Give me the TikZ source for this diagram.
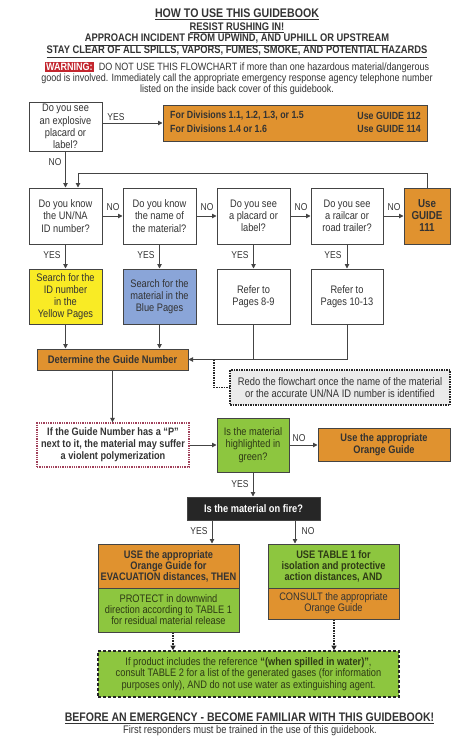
\documentclass[tikz,border=0pt]{standalone}
\usepackage{fontspec}
\setmainfont{Liberation Sans}[FakeStretch=0.85]
\usetikzlibrary{arrows.meta,calc}
\definecolor{og}{HTML}{E0922F}
\definecolor{gr}{HTML}{8DC63F}
\definecolor{yl}{HTML}{F9EB25}
\definecolor{bl}{HTML}{8AA5D8}
\definecolor{bd}{HTML}{444444}
\definecolor{tx}{HTML}{333333}
\definecolor{gtx}{HTML}{2E3A16}
\definecolor{wr}{HTML}{C3262E}
\definecolor{rd}{HTML}{A0405A}
\definecolor{gy}{HTML}{EBEBEB}
\definecolor{fb}{HTML}{262626}
\begin{document}
\begin{tikzpicture}[x=1pt,y=-1pt,
  box/.style={draw=bd,line width=1pt,inner sep=0pt,align=center,text=tx,
    font=\fontsize{10.9}{12.2}\selectfont},
  obox/.style={box,fill=og},
  gbox/.style={box,fill=gr,text=gtx},
  lbl/.style={text=tx,font=\fontsize{10}{11}\selectfont,inner sep=0pt},
  arr/.style={draw=bd,line width=0.9pt,-{Triangle[length=4.5pt,width=4.5pt]}},
  ln/.style={draw=bd,line width=0.9pt},
  dotarr/.style={draw=fb,line width=1.6pt,densely dotted,-{Triangle[length=4.5pt,width=5pt]}},
  hd/.style={text=tx,inner sep=0pt,align=center}]
\useasboundingbox (0,0) rectangle (474,745);
% header
\node[hd,font=\fontsize{12.5}{14}\bfseries] (t1) at (237,14) {\underline{HOW TO USE THIS GUIDEBOOK}};
\node[hd,font=\fontsize{11}{12}\bfseries] (t2) at (237,28) {\underline{RESIST RUSHING IN!}};
\node[hd,font=\fontsize{11}{12}\bfseries] (t3) at (237,40) {\underline{APPROACH INCIDENT FROM UPWIND, AND UPHILL OR UPSTREAM}};
\node[hd,font=\fontsize{11}{12}\bfseries] (t4) at (237,52) {\underline{STAY CLEAR OF ALL SPILLS, VAPORS, FUMES, SMOKE, AND POTENTIAL HAZARDS}};
\node[hd,font=\fontsize{10.6}{10.8}\selectfont] (warn) at (237,78) {{\setlength{\fboxsep}{1.2pt}\colorbox{wr}{\color{white}\bfseries WARNING:}}\ \ DO NOT USE THIS FLOWCHART if more than one hazardous material/dangerous\\good is involved. Immediately call the appropriate emergency response agency telephone number\\listed on the inside back cover of this guidebook.};
% first question
\node[box,minimum width=73,minimum height=49] (q1) at (65.5,126.5) {Do you see\\an explosive\\placard or\\label?};
\node[obox,minimum width=264,minimum height=36] (exp) at (295,123) {};
\node[anchor=west,inner sep=0pt,text=tx,font=\fontsize{10.4}{12}\bfseries] (e1) at (170,116) {For Divisions 1.1, 1.2, 1.3, or 1.5};
\node[anchor=west,inner sep=0pt,text=tx,font=\fontsize{10.4}{12}\bfseries] (e2) at (170,129) {For Divisions 1.4 or 1.6};
\node[anchor=east,inner sep=0pt,text=tx,font=\fontsize{10.4}{12}\bfseries] (e3) at (421,116) {Use GUIDE 112};
\node[anchor=east,inner sep=0pt,text=tx,font=\fontsize{10.4}{12}\bfseries] (e4) at (421,129) {Use GUIDE 114};
% row 2
\node[box,minimum width=73,minimum height=56] (qa) at (65.5,216) {Do you know\\the UN/NA\\ID number?};
\node[box,minimum width=73,minimum height=56] (qb) at (159.5,216) {Do you know\\the name of\\the material?};
\node[box,minimum width=73,minimum height=56] (qc) at (253.5,216) {Do you see\\a placard or\\label?};
\node[box,minimum width=72,minimum height=56] (qd) at (347,216) {Do you see\\a railcar or\\road trailer?};
\node[obox,minimum width=46,minimum height=56,font=\fontsize{11.5}{12}\bfseries] (g111) at (427,216) {Use\\GUIDE\\111};
% row 3
\node[box,fill=yl,minimum width=73,minimum height=55] (ya) at (65.5,296.5) {Search for the\\ID number\\in the\\Yellow Pages};
\node[box,fill=bl,minimum width=73,minimum height=55] (yb) at (159.5,296.5) {Search for the\\material in the\\Blue Pages};
\node[box,minimum width=73,minimum height=55] (yc) at (253.5,296.5) {Refer to\\Pages 8-9};
\node[box,minimum width=72,minimum height=55] (yd) at (347,296.5) {Refer to\\Pages 10-13};
% determine
\node[obox,minimum width=151,minimum height=21,font=\fontsize{11}{12}\bfseries] (det) at (112.5,359.5) {Determine the Guide Number};
\node[box,fill=gy,draw=fb,line width=1.5pt,densely dotted,minimum width=220,minimum height=35,font=\fontsize{11}{12}\selectfont] (redo) at (340,387.5) {Redo the flowchart once the name of the material\\or the accurate UN/NA ID number is identified};
% P box
\node[box,draw=rd,line width=1.3pt,densely dotted,minimum width=152,minimum height=44,font=\fontsize{10.8}{11.8}\bfseries] (pbox) at (113,445) {If the Guide Number has a ``P''\\next to it, the material may suffer\\a violent polymerization};
\node[gbox,minimum width=72,minimum height=54] (gq) at (253,445) {Is the material\\highlighted in\\green?};
\node[obox,minimum width=132,minimum height=33,font=\fontsize{10.9}{12}\bfseries] (oguide) at (384,444.5) {Use the appropriate\\Orange Guide};
% fire
\node[box,fill=fb,text=white,minimum width=133,minimum height=23,font=\fontsize{10.9}{12}\bfseries] (fire) at (253.5,508.5) {Is the material on fire?};
\node[obox,minimum width=141,minimum height=44,font=\fontsize{10.9}{11}\bfseries] (lt) at (168.5,566) {USE the appropriate\\Orange Guide for\\EVACUATION distances, THEN};
\node[gbox,minimum width=141,minimum height=44,font=\fontsize{10.9}{11}\selectfont] (lb) at (168.5,610) {PROTECT in downwind\\direction according to TABLE 1\\for residual material release};
\node[gbox,minimum width=131,minimum height=44,font=\fontsize{10.9}{11}\bfseries] (rt) at (333.5,566) {USE TABLE 1 for\\isolation and protective\\action distances, AND};
\node[obox,minimum width=131,minimum height=31,font=\fontsize{10.9}{11}\selectfont] (rb) at (333.5,603.5) {CONSULT the appropriate\\Orange Guide};
\node[gbox,draw=fb,line width=1.6pt,densely dashed,minimum width=301,minimum height=46,font=\fontsize{10.9}{11.5}\selectfont] (wat) at (248.5,674) {If product includes the reference \textbf{``(when spilled in water)''},\\consult TABLE 2 for a list of the generated gases (for information\\purposes only), AND do not use water as extinguishing agent.};
% footer
\node[hd,font=\fontsize{12.4}{13}\bfseries] (f1) at (249.5,718) {\underline{BEFORE AN EMERGENCY - BECOME FAMILIAR WITH THIS GUIDEBOOK!}};
\node[hd,font=\fontsize{11}{12}\selectfont] (f2) at (250,731) {First responders must be trained in the use of this guidebook.};
% connectors
\draw[arr] (q1.east |- exp.west) -- (exp.west);
\node[lbl] (l1) at (116,117) {YES};
\draw[arr] (q1.south) -- (qa.north);
\node[lbl] (l2) at (55,162) {NO};
\coordinate (loop) at (78,173);
\draw[arr] (g111.north) |- (loop) -- (loop |- qa.north);
\draw[arr] (qa.east) -- (qb.west);
\draw[arr] (qb.east) -- (qc.west);
\draw[arr] (qc.east) -- (qd.west);
\draw[arr] (qd.east) -- (g111.west);
\node[lbl] (n1) at (113,207) {NO};
\node[lbl] (n2) at (207,207) {NO};
\node[lbl] (n3) at (301,207) {NO};
\node[lbl] (n4) at (394,207) {NO};
\draw[arr] (qa.south) -- (ya.north);
\draw[arr] (qb.south) -- (yb.north);
\draw[arr] (qc.south) -- (yc.north);
\draw[arr] (qd.south) -- (yd.north);
\node[lbl] (y1) at (52,255) {YES};
\node[lbl] (y2) at (146,255) {YES};
\node[lbl] (y3) at (240,255) {YES};
\node[lbl] (y4) at (333,255) {YES};
\draw[arr] (ya.south) -- (ya.south |- det.north);
\draw[arr] (yb.south) -- (yb.south |- det.north);
\draw[ln] (yc.south) |- (det.east);
\draw[arr] (yd.south) |- (det.east);
\coordinate (dj) at (214,359.5);
\draw[draw=fb,line width=1.5pt,densely dotted] (dj) |- (redo.west);
\draw[arr] (det.south) -- (det.south |- pbox.north);
\draw[arr] (pbox.east) -- (pbox.east -| gq.west);
\draw[arr] (gq.east) -- (gq.east -| oguide.west);
\node[lbl] (n5) at (299,438) {NO};
\draw[arr] (gq.south) -- (gq.south |- fire.north);
\node[lbl] (y5) at (240,484) {YES};
\draw[arr] ([xshift=-41.5pt]fire.south) -- ([xshift=-41.5pt]fire.south |- lt.north);
\draw[arr] ([xshift=41.5pt]fire.south) -- ([xshift=41.5pt]fire.south |- rt.north);
\node[lbl] (y6) at (199,531) {YES};
\node[lbl] (n6) at (308,531) {NO};
\draw[dotarr] ([xshift=4.5pt]lb.south) -- ([xshift=4.5pt]lb.south |- wat.north);
\draw[dotarr] ([xshift=0.5pt]rb.south) -- ([xshift=0.5pt]rb.south |- wat.north);
\end{tikzpicture}
\end{document}
